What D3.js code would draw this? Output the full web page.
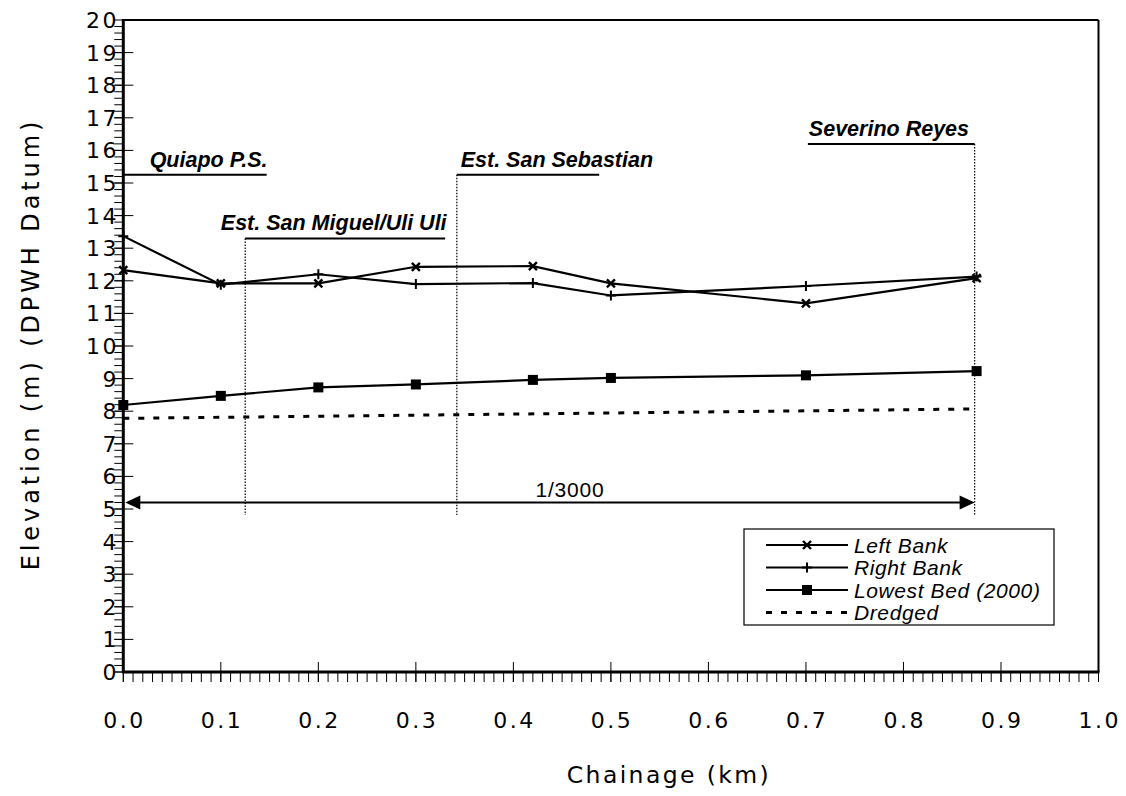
<!DOCTYPE html>
<html><head><meta charset="utf-8">
<script src="https://cdn.jsdelivr.net/npm/d3@7"></script>
<style>body{margin:0;background:#fff}</style>
</head><body><svg id="c" width="1126" height="796"></svg>
<script>
const chainage = [0, 0.1, 0.2, 0.3, 0.42, 0.5, 0.7, 0.875];
const leftBank = [12.33, 11.92, 11.92, 12.43, 12.45, 11.92, 11.31, 12.08];
const rightBank = [13.37, 11.88, 12.2, 11.9, 11.93, 11.55, 11.84, 12.13];
const lowestBed = [8.19, 8.47, 8.73, 8.82, 8.96, 9.02, 9.1, 9.23];
const dredgedX = [0, 0.875];
const dredged = [7.78, 8.07];
const xTicks = [0,0.1,0.2,0.3,0.4,0.5,0.6,0.7,0.8,0.9,1.0];
const yTicks = d3.range(0,21);
const stations = [
  {name:"Quiapo P.S.", x:0, y:15.25, x2:0.147, tx:0.027},
  {name:"Est. San Miguel/Uli Uli", x:0.125, y:13.3, x2:0.33, tx:0.1},
  {name:"Est. San Sebastian", x:0.342, y:15.25, x2:0.488, tx:0.346},
  {name:"Severino Reyes", x:0.873, y:16.2, x2:0.702, tx:0.703}
];
const gradientLabel = "1/3000";
const gradY = 5.2;

const svg = d3.select("#c");
const L=123.3, R=1098.5, T=20, B=672;
const x = d3.scaleLinear().domain([0,1]).range([L,R]);
const y = d3.scaleLinear().domain([0,20]).range([B,T]);
const AX = "DejaVu Sans";

svg.append("line").attr("x1",L).attr("x2",R).attr("y1",T).attr("y2",T).attr("stroke","#000").attr("stroke-width",2);
svg.append("line").attr("x1",R).attr("x2",R).attr("y1",T).attr("y2",B).attr("stroke","#000").attr("stroke-width",2);

const g = svg.append("g");
d3.range(0,100).forEach(i=>{
  const v=i*0.2;
  g.append("line").attr("x1",L-9).attr("x2",L).attr("y1",y(v)).attr("y2",y(v)).attr("stroke","#000").attr("stroke-width",1);
});
yTicks.forEach(v=>{
  g.append("line").attr("x1",L-9).attr("x2",L+10).attr("y1",y(v)).attr("y2",y(v)).attr("stroke","#000").attr("stroke-width",1);
  g.append("text").attr("x",119).attr("y",y(v)).attr("dy","0.36em").attr("text-anchor","end")
   .attr("font-family",AX).attr("font-size",22).attr("letter-spacing",2.5).text(v);
});
d3.range(0,101).forEach(i=>{
  const v=i*0.01;
  g.append("line").attr("x1",x(v)).attr("x2",x(v)).attr("y1",B).attr("y2",B+10).attr("stroke","#000").attr("stroke-width",1);
});
xTicks.forEach(v=>{
  g.append("line").attr("x1",x(v)).attr("x2",x(v)).attr("y1",B-10).attr("y2",B+10).attr("stroke","#000").attr("stroke-width",1);
  g.append("text").attr("x",x(v)+1.2).attr("y",728).attr("text-anchor","middle")
   .attr("font-family",AX).attr("font-size",22).attr("letter-spacing",2.5).text(v.toFixed(1));
});
svg.append("line").attr("x1",L).attr("x2",L).attr("y1",T-1).attr("y2",B+1).attr("stroke","#000").attr("stroke-width",3);
svg.append("line").attr("x1",L-1).attr("x2",R+1).attr("y1",B).attr("y2",B).attr("stroke","#000").attr("stroke-width",3);

svg.append("text").attr("x",669).attr("y",783).attr("text-anchor","middle")
  .attr("font-family",AX).attr("font-size",23.5).attr("letter-spacing",2.4).text("Chainage (km)");
svg.append("text").attr("transform","translate(39,344) rotate(-90)").attr("text-anchor","middle")
  .attr("font-family",AX).attr("font-size",24).attr("letter-spacing",3.9).text("Elevation (m) (DPWH Datum)");

stations.forEach(s=>{
  svg.append("line").attr("x1",x(s.x)).attr("x2",x(s.x)).attr("y1",y(s.y)).attr("y2",515)
    .attr("stroke","#000").attr("stroke-width",1.2).attr("stroke-dasharray","1.5,1.5");
  svg.append("line").attr("x1",x(s.x)).attr("x2",x(s.x2)).attr("y1",y(s.y)).attr("y2",y(s.y))
    .attr("stroke","#000").attr("stroke-width",2);
  svg.append("text").attr("x",x(s.tx)).attr("y",y(s.y)-8)
    .attr("font-family","Liberation Sans").attr("font-weight","bold").attr("font-style","italic")
    .attr("font-size",21.5).text(s.name);
});

const ay=y(gradY);
svg.append("line").attr("x1",x(0)+14).attr("x2",x(0.873)-14).attr("y1",ay).attr("y2",ay).attr("stroke","#000").attr("stroke-width",2);
svg.append("path").attr("d",`M${x(0)+2},${ay} L${x(0)+17},${ay-7} L${x(0)+17},${ay+7}Z`).attr("fill","#000");
svg.append("path").attr("d",`M${x(0.873)},${ay} L${x(0.873)-15},${ay-7} L${x(0.873)-15},${ay+7}Z`).attr("fill","#000");
svg.append("text").attr("x",x(0.458)).attr("y",ay-5).attr("text-anchor","middle")
  .attr("font-family","Liberation Sans").attr("font-size",21).attr("letter-spacing",0.8).text(gradientLabel);

const line = d3.line().x(d=>x(d[0])).y(d=>y(d[1]));
function drawSeries(xs, ys, marker, dash){
  const pts = xs.map((v,i)=>[v,ys[i]]);
  svg.append("path").attr("d",line(pts)).attr("fill","none").attr("stroke","#000")
    .attr("stroke-width", dash?3:2.2).attr("stroke-dasharray",dash||null);
  pts.forEach(p=>drawMarker(x(p[0]),y(p[1]),marker));
}
function drawMarker(cx,cy,m){
  if(m==="x"){
    svg.append("path").attr("d",`M${cx-4},${cy-4}L${cx+4},${cy+4}M${cx-4},${cy+4}L${cx+4},${cy-4}`).attr("stroke","#000").attr("stroke-width",2.4);
  } else if(m==="+"){
    svg.append("path").attr("d",`M${cx-5},${cy}L${cx+5},${cy}M${cx},${cy-5}L${cx},${cy+5}`).attr("stroke","#000").attr("stroke-width",2);
  } else if(m==="s"){
    svg.append("rect").attr("x",cx-5).attr("y",cy-5).attr("width",10).attr("height",10).attr("fill","#000");
  }
}
drawSeries(chainage,leftBank,"x");
drawSeries(chainage,rightBank,"+");
drawSeries(chainage,lowestBed,"s");
drawSeries(dredgedX,dredged,null,"6,9");

const lg = svg.append("g");
lg.append("rect").attr("x",744).attr("y",529).attr("width",310).attr("height",96).attr("fill","#fff").attr("stroke","#000").attr("stroke-width",1.2);
const legendItems=[["Left Bank","x",null],["Right Bank","+",null],["Lowest Bed (2000)","s",null],["Dredged",null,"6,9"]];
legendItems.forEach((it,i)=>{
  const ly=545+i*22.5;
  lg.append("line").attr("x1",766).attr("x2",848).attr("y1",ly).attr("y2",ly).attr("stroke","#000")
    .attr("stroke-width",it[2]?3:2.2).attr("stroke-dasharray",it[2]);
  if(it[1]) drawMarker(807,ly,it[1]);
  lg.append("text").attr("x",854).attr("y",ly).attr("dy","0.36em").attr("font-family","Liberation Sans")
    .attr("font-style","italic").attr("font-size",21).attr("letter-spacing",0.6).text(it[0]);
});
</script></body></html>
